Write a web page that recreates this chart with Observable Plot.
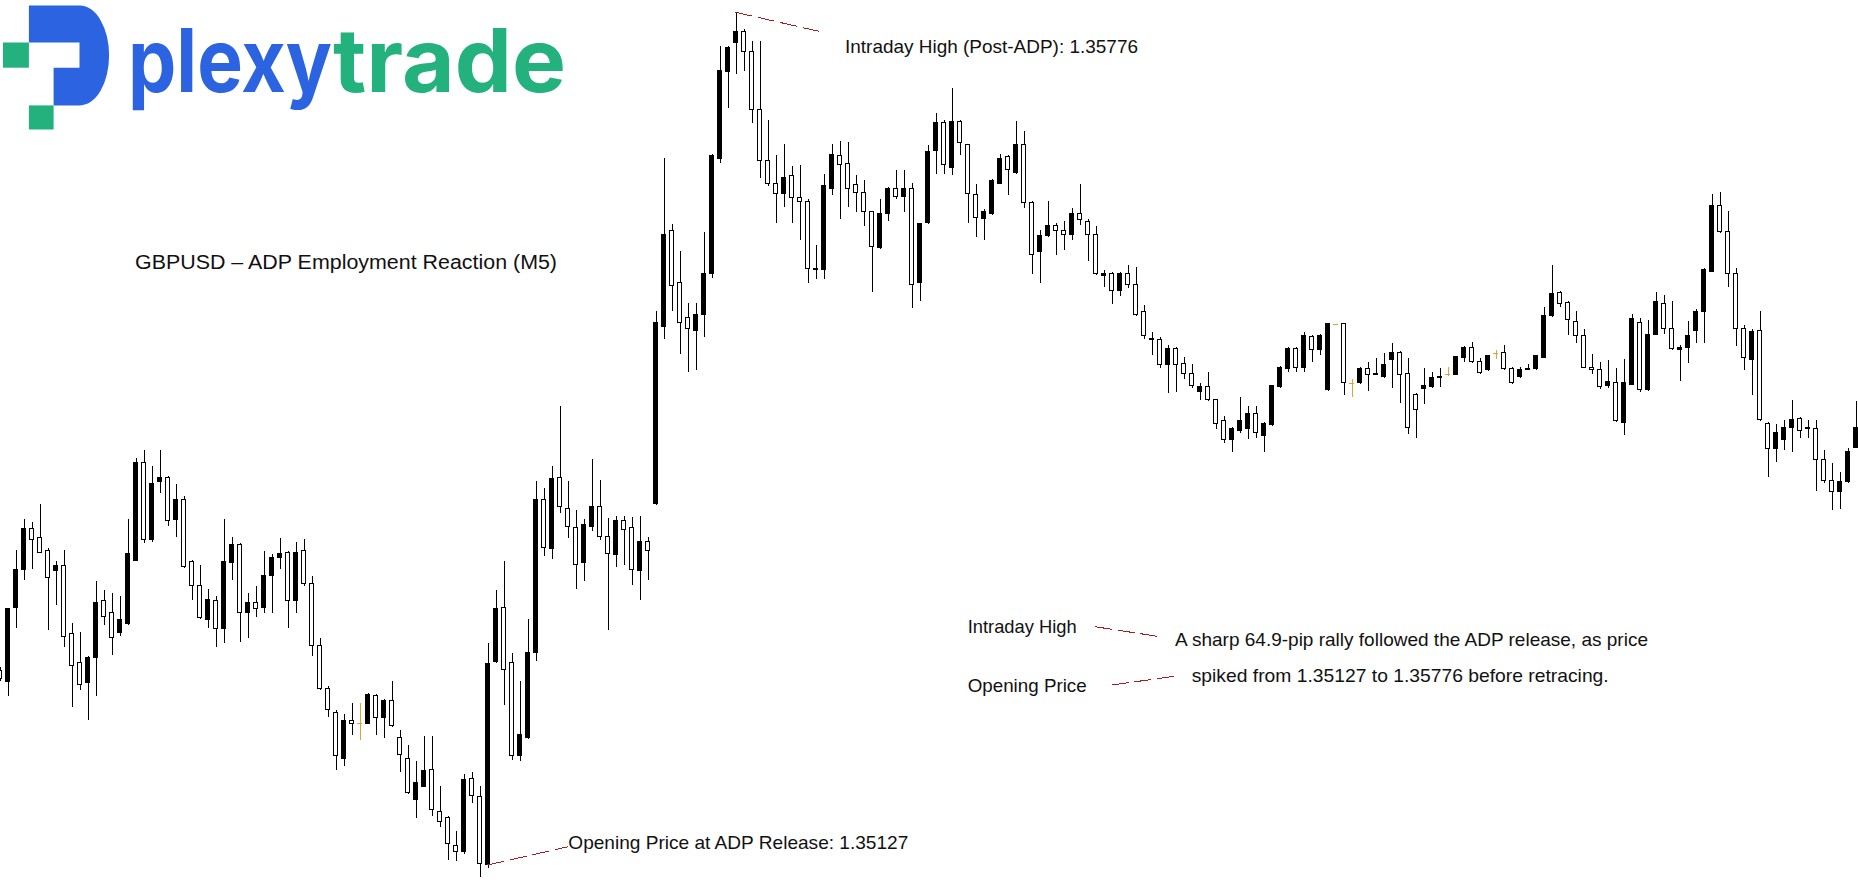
<!DOCTYPE html>
<html>
<head>
<meta charset="utf-8">
<script src="https://cdn.jsdelivr.net/npm/d3@7"></script>
<script src="https://cdn.jsdelivr.net/npm/@observablehq/plot@0.6"></script>
<style>
html, body { margin: 0; padding: 0; background: #fff; overflow: hidden; }
#chart { position: relative; width: 1858px; height: 887px; }
</style>
</head>
<body>
<div id="chart"></div>
<script>
// GBPUSD M5 candles (index = bar number, left to right)
const open = [
1.35275,1.35267,1.35323,1.35352,1.35383,1.35376,1.35366,1.35351,1.35355,1.35303,
1.35281,1.35266,1.35285,1.35328,1.35319,1.35304,1.35311,1.35359,1.35433,1.35375,
1.35419,1.35422,1.35390,1.35405,1.35358,1.35340,1.35314,1.35328,1.35307,1.35357,
1.35371,1.35319,1.35327,1.35323,1.35347,1.35361,1.35365,1.35328,1.35366,1.35341,
1.35294,1.35261,1.35243,1.35208,1.35237,1.35235,1.35235,1.35256,1.35239,1.35252,
1.35224,1.35208,1.35177,1.35187,1.35200,1.35168,1.35163,1.35142,1.35137,1.35193,
1.35179,1.35127,1.35282,1.35323,1.35281,1.35210,1.35224,1.35289,1.35405,1.35368,
1.35422,1.35398,1.35384,1.35357,1.35385,1.35400,1.35377,1.35363,1.35389,1.35384,
1.35351,1.35373,1.35402,1.35537,1.35610,1.35570,1.35544,1.35534,1.35546,1.35577,
1.35665,1.35731,1.35753,1.35761,1.35746,1.35702,1.35663,1.35646,1.35638,1.35652,
1.35635,1.35632,1.35580,1.35580,1.35642,1.35667,1.35661,1.35645,1.35639,1.35624,
1.35597,1.35623,1.35642,1.35636,1.35642,1.35570,1.35616,1.35671,1.35692,1.35658,
1.35693,1.35675,1.35637,1.35619,1.35623,1.35646,1.35666,1.35654,1.35675,1.35631,
1.35594,1.35606,1.35614,1.35610,1.35607,1.35623,1.35617,1.35607,1.35576,1.35577,
1.35564,1.35577,1.35569,1.35548,1.35527,1.35527,1.35508,1.35520,1.35509,1.35501,
1.35487,1.35491,1.35481,1.35465,1.35451,1.35458,1.35459,1.35471,1.35454,1.35462,
1.35491,1.35505,1.35520,1.35506,1.35529,1.35519,1.35489,1.35539,1.35539,1.35494,
1.35494,1.35505,1.35500,1.35499,1.35512,1.35517,1.35501,1.35485,1.35490,1.35491,
1.35498,1.35501,1.35500,1.35513,1.35521,1.35510,1.35504,1.35517,1.35517,1.35505,
1.35499,1.35504,1.35505,1.35513,1.35545,1.35563,1.35555,1.35541,1.35530,1.35506,
1.35504,1.35492,1.35494,1.35464,1.35493,1.35540,1.35489,1.35531,1.35554,1.35535,
1.35519,1.35521,1.35534,1.35548,1.35579,1.35629,1.35609,1.35577,1.35535,1.35512,
1.35534,1.35463,1.35444,1.35451,1.35460,1.35467,1.35459,1.35459,1.35436,1.35420,
1.35411,1.35419,1.35445
];
const high = [
1.35278,1.35322,1.35367,1.35390,1.35388,1.35402,1.35368,1.35358,1.35367,1.35311,
1.35304,1.35286,1.35343,1.35336,1.35334,1.35332,1.35390,1.35437,1.35443,1.35431,
1.35443,1.35423,1.35417,1.35408,1.35359,1.35355,1.35337,1.35332,1.35390,1.35377,
1.35372,1.35334,1.35339,1.35366,1.35364,1.35376,1.35366,1.35373,1.35375,1.35347,
1.35300,1.35263,1.35245,1.35242,1.35250,1.35250,1.35258,1.35257,1.35253,1.35267,
1.35230,1.35218,1.35206,1.35225,1.35225,1.35187,1.35164,1.35153,1.35196,1.35198,
1.35187,1.35296,1.35336,1.35358,1.35288,1.35267,1.35314,1.35419,1.35414,1.35431,
1.35476,1.35419,1.35397,1.35390,1.35436,1.35420,1.35391,1.35393,1.35393,1.35392,
1.35393,1.35377,1.35549,1.35665,1.35615,1.35594,1.35555,1.35555,1.35609,1.35668,
1.35750,1.35750,1.35776,1.35763,1.35754,1.35754,1.35694,1.35667,1.35676,1.35659,
1.35660,1.35634,1.35599,1.35653,1.35676,1.35678,1.35677,1.35652,1.35648,1.35625,
1.35634,1.35643,1.35656,1.35656,1.35646,1.35615,1.35675,1.35699,1.35694,1.35718,
1.35694,1.35676,1.35645,1.35626,1.35649,1.35668,1.35667,1.35693,1.35686,1.35632,
1.35610,1.35632,1.35616,1.35617,1.35627,1.35645,1.35619,1.35613,1.35580,1.35578,
1.35578,1.35584,1.35582,1.35553,1.35533,1.35529,1.35523,1.35521,1.35514,1.35508,
1.35494,1.35502,1.35482,1.35469,1.35460,1.35483,1.35476,1.35476,1.35464,1.35492,
1.35507,1.35521,1.35521,1.35533,1.35530,1.35531,1.35539,1.35539,1.35539,1.35497,
1.35506,1.35510,1.35513,1.35517,1.35524,1.35518,1.35513,1.35486,1.35505,1.35502,
1.35505,1.35506,1.35514,1.35522,1.35525,1.35513,1.35515,1.35519,1.35523,1.35506,
1.35506,1.35508,1.35515,1.35552,1.35584,1.35564,1.35556,1.35549,1.35535,1.35516,
1.35510,1.35511,1.35505,1.35512,1.35546,1.35543,1.35542,1.35563,1.35561,1.35556,
1.35523,1.35541,1.35550,1.35581,1.35638,1.35639,1.35625,1.35581,1.35538,1.35535,
1.35549,1.35464,1.35463,1.35466,1.35481,1.35468,1.35466,1.35466,1.35443,1.35433,
1.35426,1.35444,1.35480
];
const low = [
1.35267,1.35256,1.35307,1.35344,1.35352,1.35365,1.35306,1.35325,1.35293,1.35247,
1.35260,1.35237,1.35256,1.35310,1.35287,1.35301,1.35310,1.35358,1.35372,1.35373,
1.35410,1.35385,1.35377,1.35353,1.35329,1.35314,1.35307,1.35293,1.35296,1.35344,
1.35297,1.35300,1.35316,1.35319,1.35319,1.35352,1.35307,1.35319,1.35339,1.35286,
1.35260,1.35240,1.35199,1.35202,1.35226,1.35222,1.35234,1.35226,1.35224,1.35232,
1.35198,1.35181,1.35163,1.35186,1.35164,1.35156,1.35131,1.35130,1.35135,1.35174,
1.35118,1.35125,1.35281,1.35249,1.35207,1.35206,1.35223,1.35282,1.35362,1.35360,
1.35395,1.35376,1.35337,1.35343,1.35381,1.35374,1.35306,1.35354,1.35355,1.35340,
1.35329,1.35344,1.35401,1.35527,1.35549,1.35516,1.35502,1.35504,1.35529,1.35574,
1.35661,1.35703,1.35729,1.35731,1.35692,1.35650,1.35644,1.35616,1.35628,1.35616,
1.35603,1.35570,1.35573,1.35573,1.35637,1.35619,1.35628,1.35624,1.35613,1.35563,
1.35596,1.35617,1.35634,1.35624,1.35551,1.35556,1.35615,1.35653,1.35653,1.35652,
1.35667,1.35616,1.35605,1.35603,1.35622,1.35645,1.35637,1.35653,1.35627,1.35577,
1.35570,1.35605,1.35591,1.35595,1.35603,1.35614,1.35587,1.35576,1.35567,1.35554,
1.35560,1.35566,1.35545,1.35527,1.35515,1.35505,1.35486,1.35487,1.35497,1.35490,
1.35481,1.35480,1.35459,1.35448,1.35441,1.35456,1.35451,1.35452,1.35441,1.35461,
1.35490,1.35502,1.35502,1.35502,1.35510,1.35515,1.35488,1.35539,1.35485,1.35483,
1.35493,1.35488,1.35500,1.35498,1.35490,1.35479,1.35455,1.35452,1.35478,1.35490,
1.35491,1.35499,1.35500,1.35510,1.35509,1.35501,1.35503,1.35512,1.35504,1.35493,
1.35498,1.35504,1.35504,1.35513,1.35544,1.35552,1.35530,1.35524,1.35505,1.35501,
1.35489,1.35490,1.35464,1.35454,1.35492,1.35487,1.35488,1.35530,1.35531,1.35519,
1.35495,1.35509,1.35524,1.35524,1.35578,1.35608,1.35567,1.35522,1.35504,1.35485,
1.35465,1.35422,1.35434,1.35443,1.35441,1.35452,1.35452,1.35412,1.35418,1.35397,
1.35398,1.35418,1.35444
];
const close = [
1.35269,1.35322,1.35352,1.35383,1.35375,1.35365,1.35346,1.35355,1.35301,1.35279,
1.35264,1.35285,1.35327,1.35316,1.35300,1.35314,1.35364,1.35433,1.35375,1.35417,
1.35422,1.35389,1.35405,1.35354,1.35340,1.35315,1.35329,1.35307,1.35358,1.35371,
1.35319,1.35327,1.35322,1.35347,1.35361,1.35364,1.35328,1.35365,1.35341,1.35294,
1.35261,1.35245,1.35210,1.35237,1.35235,1.35235,1.35257,1.35239,1.35252,1.35233,
1.35211,1.35182,1.35190,1.35199,1.35169,1.35160,1.35143,1.35137,1.35192,1.35180,
1.35128,1.35280,1.35322,1.35276,1.35210,1.35226,1.35289,1.35405,1.35369,1.35421,
1.35400,1.35385,1.35356,1.35386,1.35400,1.35377,1.35364,1.35389,1.35382,1.35352,
1.35373,1.35366,1.35540,1.35607,1.35568,1.35540,1.35535,1.35546,1.35577,1.35667,
1.35732,1.35749,1.35761,1.35746,1.35702,1.35663,1.35646,1.35638,1.35650,1.35635,
1.35632,1.35581,1.35581,1.35644,1.35668,1.35660,1.35642,1.35639,1.35624,1.35598,
1.35623,1.35642,1.35636,1.35642,1.35569,1.35615,1.35670,1.35692,1.35660,1.35693,
1.35677,1.35638,1.35620,1.35624,1.35648,1.35665,1.35656,1.35675,1.35631,1.35592,
1.35606,1.35614,1.35610,1.35607,1.35623,1.35618,1.35607,1.35577,1.35577,1.35564,
1.35577,1.35569,1.35546,1.35530,1.35528,1.35508,1.35520,1.35508,1.35501,1.35492,
1.35491,1.35481,1.35463,1.35451,1.35459,1.35465,1.35471,1.35456,1.35463,1.35492,
1.35506,1.35520,1.35506,1.35530,1.35519,1.35530,1.35539,1.35539,1.35494,1.35494,
1.35505,1.35500,1.35501,1.35508,1.35517,1.35500,1.35460,1.35474,1.35492,1.35498,
1.35499,1.35501,1.35514,1.35521,1.35510,1.35502,1.35515,1.35517,1.35505,1.35494,
1.35504,1.35505,1.35515,1.35545,1.35562,1.35554,1.35542,1.35530,1.35506,1.35504,
1.35491,1.35495,1.35465,1.35494,1.35543,1.35489,1.35531,1.35556,1.35535,1.35520,
1.35521,1.35530,1.35548,1.35580,1.35629,1.35609,1.35577,1.35535,1.35513,1.35533,
1.35466,1.35444,1.35456,1.35460,1.35466,1.35458,1.35460,1.35436,1.35420,1.35411,
1.35419,1.35442,1.35460
];

// Key levels and texts
const adpOpenBar = 61, adpOpenPrice = 1.35127;
const highBar = 92, highPrice = 1.35776;
const titleText = "GBPUSD – ADP Employment Reaction (M5)";
const highLabel = "Intraday High (Post-ADP): 1.35776";
const openLabel = "Opening Price at ADP Release: 1.35127";
const legendHigh = "Intraday High";
const legendOpen = "Opening Price";
const noteLine1 = "A sharp 64.9-pip rally followed the ADP release, as price";
const noteLine2 = "spiked from 1.35127 to 1.35776 before retracing.";

const candles = open.map((o, i) => ({i, open: o, high: high[i], low: low[i], close: close[i]}));
const bull = candles.filter(d => d.close > d.open);
const bear = candles.filter(d => d.close < d.open);
const doji = candles.filter(d => d.close === d.open);
const body = candles.filter(d => d.close !== d.open);

const ORANGE = "#e3a033", RED = "#a81e1e", BLUE = "#2c63e0", GREEN = "#23b17d";
const W = 1858, H = 887;

const chart = Plot.plot({
  width: W, height: H,
  margin: 0,
  x: {type: "linear", domain: [0.0625, 232.3125], axis: null},
  y: {type: "linear", domain: [1.3511025, 1.3578535], axis: null},
  style: {background: "white", overflow: "hidden"},
  marks: [
    Plot.ruleX(body, {x: "i", y1: "low", y2: "high", stroke: "black", strokeWidth: 1, shapeRendering: "crispEdges"}),
    Plot.ruleX(doji, {x: "i", y1: "low", y2: "high", stroke: ORANGE, strokeWidth: 1, shapeRendering: "crispEdges"}),
    Plot.rect(bull, {x1: d => d.i - 0.25, x2: d => d.i + 0.25, y1: "open", y2: "close", fill: "black", stroke: "black", strokeWidth: 1, shapeRendering: "crispEdges"}),
    Plot.rect(bear, {x1: d => d.i - 0.25, x2: d => d.i + 0.25, y1: "open", y2: "close", fill: "white", stroke: "black", strokeWidth: 1, shapeRendering: "crispEdges"}),
    Plot.ruleY(doji, {y: "open", x1: d => d.i - 0.3125, x2: d => d.i + 0.3125, stroke: ORANGE, strokeWidth: 1, shapeRendering: "crispEdges"})
  ]
});
document.getElementById("chart").appendChild(chart);

const svg = d3.select(chart);
const sx = chart.scale("x"), sy = chart.scale("y");
const FONT = "'Liberation Sans', Arial, Helvetica, sans-serif";

function label(x, y, txt, size, len) {
  svg.append("text")
    .attr("x", x).attr("y", y)
    .attr("font-family", FONT).attr("font-size", size)
    .attr("fill", "#111").attr("text-anchor", "start")
    .attr("textLength", len).attr("lengthAdjust", "spacingAndGlyphs")
    .text(txt);
}
function dash(x1, y1, x2, y2) {
  svg.append("line")
    .attr("x1", x1).attr("y1", y1).attr("x2", x2).attr("y2", y2)
    .attr("stroke", RED).attr("stroke-width", 1).attr("stroke-dasharray", "17,6")
    .attr("shape-rendering", "crispEdges");
}

// Annotations tied to the data
dash(sx.apply(highBar), sy.apply(highPrice), 825, 32.7);
label(845, 53.3, highLabel, 19, 293);
dash(sx.apply(adpOpenBar), sy.apply(adpOpenPrice), 568, 846.7);
label(568.3, 849.3, openLabel, 19, 340);

// Title
label(135, 269, titleText, 20, 422);

// Explanation block
label(967.7, 632.7, legendHigh, 19, 109);
dash(1095, 626.7, 1160, 636.7);
label(1175, 646, noteLine1, 19, 473);
label(967.7, 691.7, legendOpen, 19, 119);
dash(1111.7, 685, 1176.7, 676);
label(1191.7, 681.7, noteLine2, 19, 417);

// Logo
const logo = svg.append("g");
logo.append("path")
  .attr("d", "M28.9,5.5H80A29.1,49.95 0 0 1 80,105.4H53.6V67.7H79.5V42.5H28.9Z")
  .attr("fill", BLUE);
logo.append("rect").attr("x", 3).attr("y", 42.5).attr("width", 25.9).attr("height", 25.2).attr("fill", GREEN);
logo.append("rect").attr("x", 28.9).attr("y", 105.4).attr("width", 24.7).attr("height", 24.1).attr("fill", GREEN);
const word = logo.append("text")
  .attr("y", 91.7)
  .attr("font-family", "Inter, 'Noto Sans', sans-serif").attr("font-weight", 700).attr("font-size", 88)
  .attr("text-anchor", "start");
word.append("tspan")
  .attr("x", 128).attr("fill", BLUE)
  .attr("textLength", 204).attr("lengthAdjust", "spacingAndGlyphs")
  .text("plexy");
word.append("tspan")
  .attr("x", 333).attr("fill", GREEN)
  .attr("textLength", 233).attr("lengthAdjust", "spacingAndGlyphs")
  .text("trade");
</script>
</body>
</html>
